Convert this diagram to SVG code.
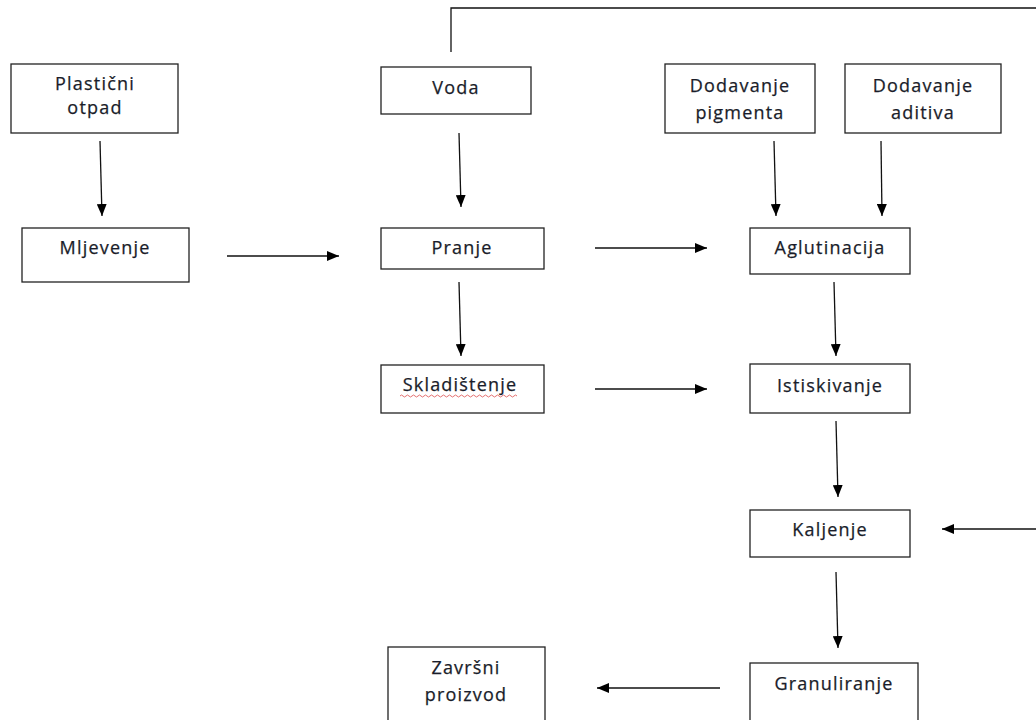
<svg xmlns="http://www.w3.org/2000/svg" width="1036" height="720" viewBox="0 0 1036 720">
<defs>
<style>
.box{fill:#fff;stroke:#222;stroke-width:1.3}
.t{font-family:"Open Sans","Liberation Sans",sans-serif;font-size:18px;letter-spacing:1.2px;fill:#1a1d2a;stroke:#1a1d2a;stroke-width:0.25;text-anchor:middle}
.c{stroke:#111;stroke-width:1.3;fill:none}
</style>
<marker id="ah" viewBox="0 0 12 10" refX="12" refY="5" markerWidth="12" markerHeight="10" markerUnits="userSpaceOnUse" orient="auto">
<path d="M0,0 L12,5 L0,10 Z" fill="#000"/>
</marker>
</defs>
<rect width="1036" height="720" fill="#fff"/>
<g id="connectors">
<line class="c" x1="100" y1="141" x2="102" y2="216" marker-end="url(#ah)"/>
<line class="c" x1="227" y1="256" x2="339" y2="256" marker-end="url(#ah)"/>
<polyline class="c" points="451,52 451,8 1036,8"/>
<line class="c" x1="459" y1="133" x2="461" y2="207" marker-end="url(#ah)"/>
<line class="c" x1="459" y1="282" x2="461" y2="356" marker-end="url(#ah)"/>
<line class="c" x1="595" y1="248" x2="707" y2="248" marker-end="url(#ah)"/>
<line class="c" x1="595" y1="389" x2="707" y2="389" marker-end="url(#ah)"/>
<line class="c" x1="774" y1="141" x2="776" y2="216" marker-end="url(#ah)"/>
<line class="c" x1="881" y1="141" x2="882" y2="216" marker-end="url(#ah)"/>
<line class="c" x1="834" y1="282" x2="836" y2="356" marker-end="url(#ah)"/>
<line class="c" x1="836" y1="421" x2="838" y2="497" marker-end="url(#ah)"/>
<line class="c" x1="1036" y1="529" x2="942" y2="529" marker-end="url(#ah)"/>
<line class="c" x1="836" y1="572" x2="838" y2="648" marker-end="url(#ah)"/>
<line class="c" x1="720" y1="688" x2="597" y2="688" marker-end="url(#ah)"/>
</g>
<g id="plasticni">
<rect class="box" x="11" y="64" width="167" height="69"/>
<text class="t" x="95" y="90">Plastični</text>
<text class="t" x="95" y="114">otpad</text>
</g>
<g id="mljevenje">
<rect class="box" x="22" y="228" width="167" height="54"/>
<text class="t" x="105" y="254">Mljevenje</text>
</g>
<g id="voda">
<rect class="box" x="381" y="67" width="150" height="47"/>
<text class="t" x="456" y="94">Voda</text>
</g>
<g id="pranje">
<rect class="box" x="381" y="228" width="163" height="41"/>
<text class="t" x="462" y="254">Pranje</text>
</g>
<g id="skladistenje">
<rect class="box" x="381" y="365" width="163" height="48"/>
<text class="t" x="460" y="391">Skladištenje</text>
<path d="M400,396 q1.5,-2 3,0 t3,0 t3,0 t3,0 t3,0 t3,0 t3,0 t3,0 t3,0 t3,0 t3,0 t3,0 t3,0 t3,0 t3,0 t3,0 t3,0 t3,0 t3,0 t3,0 t3,0 t3,0 t3,0 t3,0 t3,0 t3,0 t3,0 t3,0 t3,0 t3,0 t3,0 t3,0 t3,0 t3,0 t3,0 t3,0 t3,0 t3,0 t3,0" fill="none" stroke="#e06060" stroke-width="0.9"/>
</g>
<g id="pigment">
<rect class="box" x="665" y="64" width="150" height="69"/>
<text class="t" x="740" y="92">Dodavanje</text>
<text class="t" x="740" y="119">pigmenta</text>
</g>
<g id="aditiv">
<rect class="box" x="845" y="64" width="156" height="69"/>
<text class="t" x="923" y="92">Dodavanje</text>
<text class="t" x="923" y="119">aditiva</text>
</g>
<g id="aglutinacija">
<rect class="box" x="750" y="228" width="160" height="46"/>
<text class="t" x="830" y="254">Aglutinacija</text>
</g>
<g id="istiskivanje">
<rect class="box" x="750" y="364" width="160" height="49"/>
<text class="t" x="830" y="392">Istiskivanje</text>
</g>
<g id="kaljenje">
<rect class="box" x="750" y="510" width="160" height="47"/>
<text class="t" x="830" y="536">Kaljenje</text>
</g>
<g id="granuliranje">
<rect class="box" x="750" y="663" width="168" height="62"/>
<text class="t" x="834" y="690">Granuliranje</text>
</g>
<g id="zavrsni">
<rect class="box" x="388" y="647" width="157" height="78"/>
<text class="t" x="466" y="674">Završni</text>
<text class="t" x="466" y="701">proizvod</text>
</g>
</svg>
